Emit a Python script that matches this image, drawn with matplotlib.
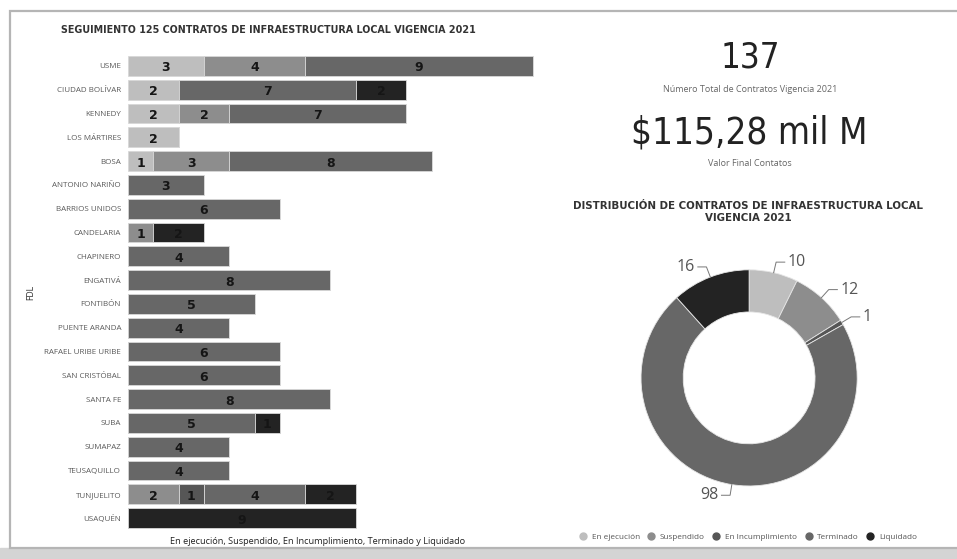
import numpy as np
import matplotlib
matplotlib.use("Agg")
import matplotlib.pyplot as plt
from matplotlib.patches import Rectangle

# datos por localidad (FDL)
localidades = ['USME', 'CIUDAD BOLÍVAR', 'KENNEDY', 'LOS MÁRTIRES', 'BOSA', 'ANTONIO NARIÑO',
               'BARRIOS UNIDOS', 'CANDELARIA', 'CHAPINERO', 'ENGATIVÁ', 'FONTIBÓN',
               'PUENTE ARANDA', 'RAFAEL URIBE URIBE', 'SAN CRISTÓBAL', 'SANTA FE', 'SUBA',
               'SUMAPAZ', 'TEUSAQUILLO', 'TUNJUELITO', 'USAQUÉN']
en_ejecucion     = [3, 2, 2, 2, 1, 0, 0, 0, 0, 0, 0, 0, 0, 0, 0, 0, 0, 0, 0, 0]
suspendido       = [4, 0, 2, 0, 3, 0, 0, 1, 0, 0, 0, 0, 0, 0, 0, 0, 0, 0, 2, 0]
en_incumplimiento = [0, 0, 0, 0, 0, 0, 0, 0, 0, 0, 0, 0, 0, 0, 0, 0, 0, 0, 1, 0]
terminado        = [9, 7, 7, 0, 8, 3, 6, 0, 4, 8, 5, 4, 6, 6, 8, 5, 4, 4, 4, 0]
liquidado        = [0, 2, 0, 0, 0, 0, 0, 2, 0, 0, 0, 0, 0, 0, 0, 1, 0, 0, 2, 9]

estados = ['En ejecución', 'Suspendido', 'En Incumplimiento', 'Terminado', 'Liquidado']
totales_estado = [10, 12, 1, 98, 16]
colores = ['#bebebe', '#8d8d8d', '#565656', '#676767', '#232323']

total_contratos = '137'
valor_final = '$115,28 mil M'

fig = plt.figure(figsize=(9.57, 5.59), dpi=100)
fig.patch.set_facecolor('white')

# marco del tablero
fig.add_artist(Rectangle((0, 0), 1, 11 / 559, transform=fig.transFigure, color='#d4d4d4', zorder=0))
fig.add_artist(Rectangle((10 / 957, 11 / 559), 1.0, 1 - 22 / 559, transform=fig.transFigure,
                         facecolor='white', edgecolor='#b5b5b5', lw=1.6, zorder=0))

# barras apiladas
ax = fig.add_axes([128 / 957, 1 - 530 / 559, 410 / 957, 476 / 559])
y = np.arange(len(localidades))
series = [en_ejecucion, suspendido, en_incumplimiento, terminado, liquidado]
left = np.zeros(len(localidades))
for vals, col in zip(series, colores):
    vals = np.array(vals)
    ax.barh(y, vals, left=left, height=0.84, color=col, edgecolor='#d8d8d8', linewidth=0.6)
    for yi, (l, v) in enumerate(zip(left, vals)):
        if v > 0:
            ax.text(l + v / 2, yi + 0.08, str(v), ha='center', va='center',
                    fontsize=9, fontweight='bold', color='#151515')
    left += vals

ax.set_xlim(0, 16.2)
ax.set_ylim(len(localidades) - 0.5, -0.5)
ax.set_yticks(y)
ax.set_yticklabels(localidades, fontsize=5.8, color='#5a5a5a', family='Open Sans')
ax.tick_params(axis='y', length=0, pad=5)
ax.set_xticks([])
for s in ax.spines.values():
    s.set_visible(False)

fig.text(268 / 957, 1 - 30 / 559, 'SEGUIMIENTO 125 CONTRATOS DE INFRAESTRUCTURA LOCAL VIGENCIA 2021',
         ha='center', va='center', fontsize=7.7, fontweight='bold', color='#333333',
         family='DejaVu Sans', fontstretch='condensed')
fig.text(31 / 957, 1 - 292 / 559, 'FDL', rotation=90, ha='center', va='center',
         fontsize=5.8, color='#333333')
fig.text(318 / 957, 1 - 542 / 559, 'En ejecución, Suspendido, En Incumplimiento, Terminado y Liquidado',
         ha='center', va='center', fontsize=6.6, color='#222222', family='Open Sans')

# tarjetas
fig.text(750 / 957, 1 - 58 / 559, total_contratos, ha='center', va='center',
         fontsize=25, color='#222222', family='DejaVu Sans', fontstretch='condensed')
fig.text(750 / 957, 1 - 89 / 559, 'Número Total de Contratos Vigencia 2021', ha='center',
         va='center', fontsize=6.5, color='#666666', family='Open Sans')
fig.text(749 / 957, 1 - 133 / 559, valor_final, ha='center', va='center',
         fontsize=26.5, color='#222222', family='DejaVu Sans', fontstretch='condensed')
fig.text(750 / 957, 1 - 164 / 559, 'Valor Final Contatos', ha='center', va='center',
         fontsize=6.5, color='#666666', family='Open Sans')
fig.text(748 / 957, 1 - 212 / 559, 'DISTRIBUCIÓN DE CONTRATOS DE INFRAESTRUCTURA LOCAL\nVIGENCIA 2021',
         ha='center', va='center', fontsize=8.2, fontweight='bold', color='#333333',
         family='DejaVu Sans', fontstretch='condensed', linespacing=1.25)

# dona
axd = fig.add_axes([608.6 / 957, 1 - 518.4 / 559, 281 / 957, 281 / 559])
wedges, _ = axd.pie(totales_estado, colors=colores, startangle=90, counterclock=False,
                    radius=1.0, wedgeprops=dict(width=0.39, edgecolor='#e6e6e6', linewidth=0.6))
axd.set_xlim(-1.3, 1.3)
axd.set_ylim(-1.3, 1.3)
axd.set_aspect('equal')
axd.axis('off')

for w, v in zip(wedges, totales_estado):
    ang = np.deg2rad((w.theta1 + w.theta2) / 2)
    x0, y0 = np.cos(ang) * 1.0, np.sin(ang) * 1.0
    x1, y1 = np.cos(ang) * 1.1, np.sin(ang) * 1.1
    side = 1 if x1 >= 0 else -1
    x2 = x1 + side * 0.08
    axd.plot([x0, x1, x2], [y0, y1, y1], color='#777777', lw=0.7)
    axd.text(x2 + side * 0.03, y1, str(v), ha='left' if side > 0 else 'right', va='center',
             fontsize=11.5, color='#555555', family='Open Sans')

# leyenda
handles = [plt.Line2D([], [], marker='o', ls='', color=c, markersize=5) for c in colores]
fig.legend(handles, estados, loc='center', bbox_to_anchor=(746 / 957, 1 - 537 / 559), ncol=5,
           frameon=False, handletextpad=0.05, columnspacing=0.4,
           labelcolor='#555555', prop={'family': 'Open Sans', 'size': 5.9})

fig.savefig('out.png', dpi=100, facecolor=fig.get_facecolor())
